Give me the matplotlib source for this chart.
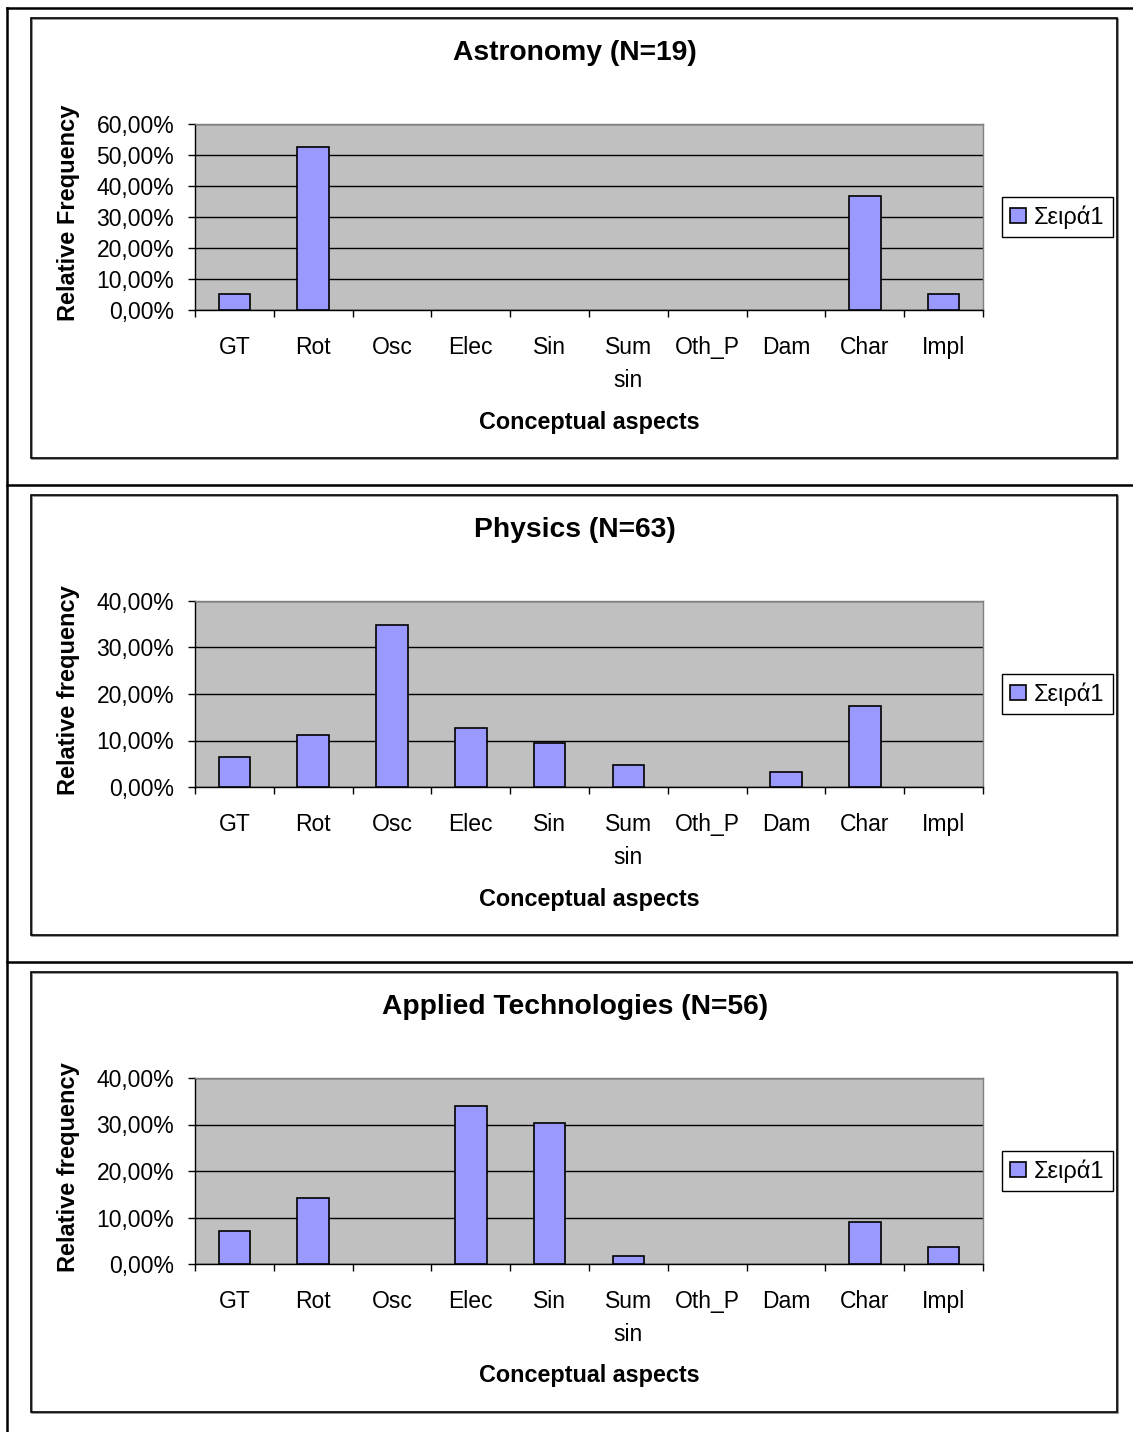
import matplotlib
matplotlib.use("Agg")
import matplotlib.pyplot as plt
import numpy as np
from matplotlib.ticker import FuncFormatter, FixedLocator
from matplotlib.patches import Rectangle
from matplotlib.lines import Line2D

plt.rcParams['font.family'] = ['Liberation Sans', 'DejaVu Sans']

categories = ["GT", "Rot", "Osc", "Elec", "Sin", "Sum\nsin", "Oth_P", "Dam", "Char", "Impl"]

titles = ["Astronomy (N=19)", "Physics (N=63)", "Applied Technologies (N=56)"]
ylabels = ["Relative Frequency", "Relative frequency", "Relative frequency"]
xlabel = "Conceptual aspects"
legend_label = "Σειρά1"

astronomy = [5.26, 52.63, 0, 0, 0, 0, 0, 0, 36.84, 5.26]
physics = [6.35, 11.11, 34.92, 12.70, 9.52, 4.76, 0, 3.17, 17.46, 0]
applied = [7.14, 14.29, 0, 33.93, 30.36, 1.79, 0, 0, 8.93, 3.57]
series = [astronomy, physics, applied]
ymax = [60, 40, 40]
ystep = [10, 10, 10]

W, H = 1133, 1432
fig = plt.figure(figsize=(W / 100, H / 100), dpi=100)

def fx(px):
    return px / W

def fy(py):
    return 1 - py / H

# outer table lines
for y in [8, 485, 962]:
    fig.add_artist(Line2D([fx(7), fx(1133)], [fy(y), fy(y)], transform=fig.transFigure,
                          color='black', lw=1.8))
fig.add_artist(Line2D([fx(7), fx(7)], [fy(8), fy(1432)], transform=fig.transFigure,
                      color='black', lw=1.8))

offsets = [0, 477, 954]
fmt = FuncFormatter(lambda v, p: f"{v:.2f}%".replace('.', ','))

for i in range(3):
    oy = offsets[i]
    # chart area box
    fig.add_artist(Rectangle((fx(32), fy(459 + oy)), fx(1118) - fx(32), fy(19 + oy) - fy(459 + oy),
                             transform=fig.transFigure, facecolor='none', edgecolor='#808080', lw=1.2))
    fig.add_artist(Rectangle((fx(31), fy(458 + oy)), fx(1117) - fx(31), fy(18 + oy) - fy(458 + oy),
                             transform=fig.transFigure, facecolor='none', edgecolor='black', lw=1.2))

    ax = fig.add_axes([fx(195), fy(310 + oy), fx(983) - fx(195), fy(124 + oy) - fy(310 + oy)])
    ax.set_facecolor('#C0C0C0')
    x = np.arange(len(categories)) + 0.5
    bars = ax.bar(x, series[i], width=0.4, color='#9999FF', edgecolor='black', lw=1.2, zorder=3)
    for b, v in zip(bars, series[i]):
        if v == 0:
            b.set_visible(False)
    ax.set_xlim(0, len(categories))
    ax.set_ylim(0, ymax[i])
    ax.set_yticks(np.arange(0, ymax[i] + 0.1, ystep[i]))
    ax.yaxis.set_major_formatter(fmt)
    ax.set_xticks(x)
    ax.set_xticklabels(categories, multialignment='center', linespacing=1.55)
    ax.xaxis.set_minor_locator(FixedLocator(np.arange(0, len(categories) + 1)))
    ax.tick_params(axis='x', which='major', length=0, pad=19, labelsize=16.5)
    ax.tick_params(axis='x', which='minor', length=5, width=1, direction='out', color='black')
    ax.tick_params(axis='y', which='major', length=5, width=1, direction='out', pad=10, labelsize=16.5)
    ax.set_axisbelow(True)
    ax.yaxis.grid(True, color='black', lw=1)
    for s in ['top', 'right']:
        ax.spines[s].set_color('#808080')
        ax.spines[s].set_linewidth(1)
    for s in ['left', 'bottom']:
        ax.spines[s].set_color('black')
        ax.spines[s].set_linewidth(1)

    ax.set_ylabel(ylabels[i], fontsize=17, fontweight='bold')
    ax.yaxis.set_label_coords((69 - 195) / 788, 0.52)
    ax.yaxis.label.set_va('center')
    ax.set_xlabel(xlabel, fontsize=16.8, fontweight='bold')
    ax.xaxis.set_label_coords(0.5, (310 - 422) / 186)
    ax.xaxis.label.set_va('center')

    fig.text(fx(575), fy(53 + oy), titles[i], ha='center', va='center', fontsize=20.3, fontweight='bold')

    leg = ax.legend([legend_label], loc='center left', bbox_to_anchor=((1002 - 195) / 788, 0.5),
                    borderaxespad=0, fancybox=False, frameon=True, fontsize=17,
                    handlelength=0.65, handleheight=0.65, handletextpad=0.35, borderpad=0.35,
                    edgecolor='black', framealpha=1, facecolor='white')
    leg.get_frame().set_linewidth(1)

fig.savefig("out.png", dpi=100)
